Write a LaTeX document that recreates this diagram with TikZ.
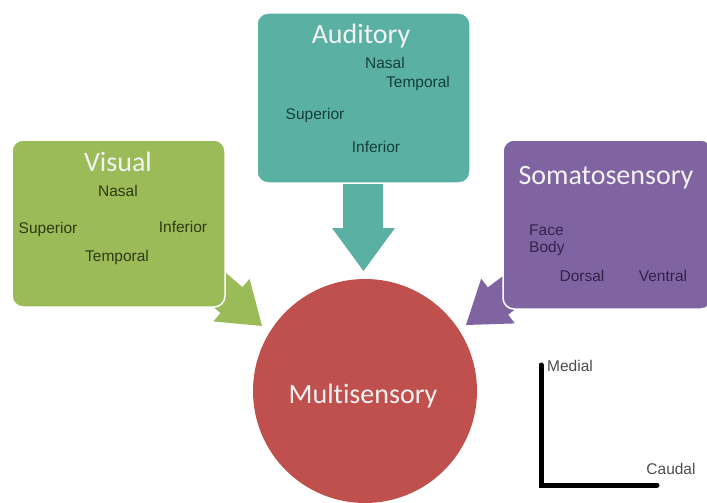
\documentclass[tikz,border=0pt]{standalone}
\usepackage{fontspec}
\setmainfont{Liberation Sans}
\newfontfamily\titlefont[RawFeature={-liga;-clig}]{Carlito}
\begin{document}
\begin{tikzpicture}[x=1pt,y=-1pt,
  box/.style={rounded corners=11pt, draw=white, line width=1.5pt},
  ttl/.style={font=\titlefont\fontsize{28}{32}\selectfont, text=white!95!black, inner sep=0pt},
  lbl/.style={font=\fontsize{15.5}{17}\selectfont, inner sep=0pt}]
\definecolor{vgreen}{HTML}{9BBB59}
\definecolor{ateal}{HTML}{5AB1A3}
\definecolor{spurple}{HTML}{8064A2}
\definecolor{mred}{HTML}{C0504D}
\definecolor{vtext}{HTML}{2E3A14}
\definecolor{atext}{HTML}{163F39}
\definecolor{stext}{HTML}{33234A}
\useasboundingbox (0,0) rectangle (707,503);
\fill[white] (0,0) rectangle (707,503);
% block arrows
\fill[vgreen] (174.8,274.2) -- (220.5,313.1) -- (213.4,321.4) -- (262,326) -- (249.6,278.8) -- (242.5,287.1) -- (196.8,248.2) -- cycle;
\fill[spurple] (556.2,278.6) -- (508.2,314.6) -- (514.8,323.4) -- (466,325) -- (481.2,278.6) -- (487.8,287.4) -- (535.8,251.4) -- cycle;
\fill[ateal] (343,170) -- (383,170) -- (383,228) -- (395,228) -- (363.5,271) -- (332,228) -- (343,228) -- cycle;
% boxes
\filldraw[box, fill=vgreen] (12,140) rectangle (225,307);
\filldraw[box, fill=ateal] (257,13) rectangle (470,183);
\filldraw[box, fill=spurple] (503,140) rectangle (712,309);
% circle
\fill[mred] (365,391) circle (112);
\node[ttl] (multi) at (363,396) {Multisensory};
% titles
\node[ttl] (vis) at (118,162) {Visual};
\node[ttl] (aud) at (361,36) {Auditory};
\node[ttl] (som) at (606,178) {Somatosensory};
% visual labels
\node[lbl, text=vtext] (vn) at (118,191) {Nasal};
\node[lbl, text=vtext] (vs) at (48,229) {Superior};
\node[lbl, text=vtext] (vi) at (183,227) {Inferior};
\node[lbl, text=vtext] (vt) at (117,257) {Temporal};
% auditory labels
\node[lbl, text=atext] (an) at (385,63) {Nasal};
\node[lbl, text=atext] (at) at (418,83) {Temporal};
\node[lbl, text=atext] (as) at (315,115) {Superior};
\node[lbl, text=atext] (ai) at (376,147) {Inferior};
% somatosensory labels
\node[lbl, text=stext, anchor=west] (sf) at (529,230) {Face};
\node[lbl, text=stext, anchor=west] (sb) at (529,248) {Body};
\node[lbl, text=stext] (sd) at (582,276) {Dorsal};
\node[lbl, text=stext] (sv) at (663,276) {Ventral};
% axes
\coordinate (top) at (541,365);
\coordinate (corner) at (541,485);
\coordinate (right) at (657,485);
\draw[line width=5pt, line cap=round, line join=miter] (top) -- (corner) -- (right);
\node[lbl, text=black!70, anchor=west] (med) at (547,366) {Medial};
\node[lbl, text=black!70] (cau) at (671,469) {Caudal};
\end{tikzpicture}
\end{document}
